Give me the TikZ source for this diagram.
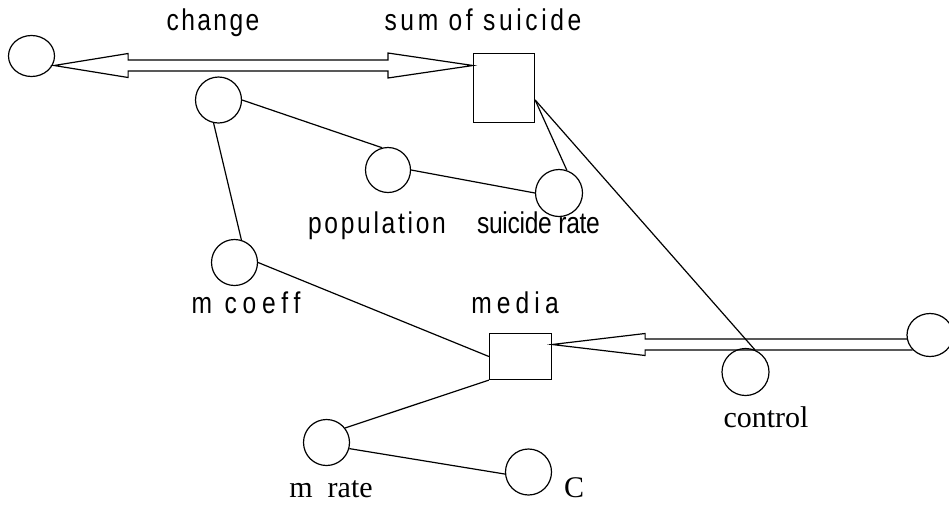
\documentclass[tikz,border=0pt]{standalone}
\usepackage{fontspec}
\setmainfont{Liberation Serif}
\newfontfamily\sansf[FakeStretch=0.82]{Liberation Sans}
\usetikzlibrary{shapes.geometric,calc}
\newcommand\spaced[2]{{\addfontfeatures{LetterSpace=#1}#2}}
\begin{document}
\begin{tikzpicture}[x=1pt,y=-1pt,line width=1.2pt,
  aux/.style={circle,draw,inner sep=0pt,minimum size=46pt},
  cloud/.style={ellipse,draw,inner sep=0pt},
  stock/.style={rectangle,draw,inner sep=0pt},
  link/.style={draw},
  flow/.style={draw,line join=miter},
  slab/.style={anchor=base,inner sep=0pt,font=\sansf\fontsize{30pt}{33pt}\selectfont},
  rlab/.style={anchor=base,inner sep=0pt,font=\rmfamily\fontsize{30pt}{33pt}\selectfont}]
\useasboundingbox (0,0) rectangle (949,504);
% nodes
\node[cloud,minimum width=46pt,minimum height=41pt] (L1) at (31.5,56) {};
\node[cloud,minimum width=46pt,minimum height=43pt] (R) at (930,335) {};
\node[stock,minimum width=61pt,minimum height=69pt] (sum) at (504,88) {};
\node[stock,minimum width=62pt,minimum height=46pt] (media) at (520.5,356.5) {};
\node[aux] (c2) at (218.5,100) {};
\node[aux,minimum size=45pt] (pop) at (388,170) {};
\node[aux,minimum size=47pt] (sr) at (559,193) {};
\node[aux] (mc) at (234.5,262.5) {};
\node[aux,minimum size=47pt] (ctl) at (745.5,372) {};
\node[aux] (mr) at (326.5,442.5) {};
\node[aux] (C) at (528.5,472) {};
% labels
\node[slab] (lchange) at (213,30) {\spaced{8}{change}};
\node[slab] (lsum) at (483,30) {\spaced{12}{sum of suicide}};
\node[slab] (lpop) at (377,233) {\spaced{9}{population}};
\node[slab] (lsr) at (538.5,233) {\spaced{-1}{suicide rate}};
\node[slab] (lmc) at (246,313) {\spaced{19}{m coeff}};
\node[slab] (lmedia) at (515,313) {\spaced{17}{media}};
\node[rlab] (lctl) at (766,427) {control};
\node[rlab] (lmr) at (331,497) {m\ \ rate};
\node[rlab] (lC) at (574,497) {C};
% flow: change (double headed)
\coordinate (chL) at ([shift={(-1pt,-9.5pt)}]L1.east);
\coordinate (chR) at ([yshift=22.5pt]sum.west);
\draw[flow] (chL) -- ($(chL)+(74,-12)$) -- ($(chL)+(74,-5.5)$)
  -- ($(chR)+(-85,-5.5)$) -- ($(chR)+(-85,-12.5)$) -- (chR)
  -- ($(chR)+(-85,12.5)$) -- ($(chR)+(-85,5.5)$)
  -- ($(chL)+(74,5.5)$) -- ($(chL)+(74,12)$) -- cycle;
% flow: media
\coordinate (mdT) at ([yshift=12pt]media.east);
\draw[flow] ($(R.west)+(0.4,4)$) -- ($(mdT)+(93,-5.5)$) -- ($(mdT)+(93,-11)$)
  -- (mdT) -- ($(mdT)+(93,11)$) -- ($(mdT)+(93,5.5)$) -- ($(R.west)+(6.2,15)$);
% links
\coordinate (sumP) at ($(sum.south east)!0.33!(sum.north east)$);
\draw[link] (c2.east) -- (pop.105);
\draw[link] (c2.258) -- (mc.73);
\draw[link] (pop.east) -- (sr.west);
\draw[link] (sumP) -- (sr.71);
\draw[link] (sumP) -- (ctl.67);
\draw[link] (mc.east) -- (media.west);
\draw[link] (media.south west) -- (mr.38);
\draw[link] (mr.-15) -- (C.185);
\end{tikzpicture}
\end{document}
